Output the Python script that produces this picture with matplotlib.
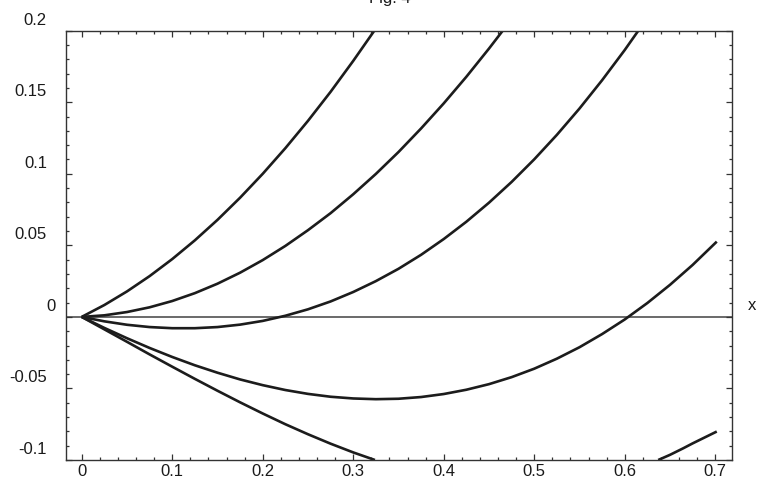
import numpy as np
import matplotlib
matplotlib.use("Agg")
import matplotlib.pyplot as plt
from matplotlib.ticker import MultipleLocator
from matplotlib.transforms import ScaledTranslation

plt.rcParams["font.family"] = ["Liberation Sans", "DejaVu Sans"]

# curves (x, y), every 0.025 in x; all start at the origin
a_x = [0, 0.025, 0.05, 0.075, 0.1, 0.125, 0.15, 0.175, 0.2, 0.225, 0.25, 0.275,
       0.3, 0.3233]
a_y = [0, 0.0083, 0.0178, 0.0285, 0.0404, 0.0535, 0.0678, 0.0833, 0.100, 0.1179,
       0.137, 0.1573, 0.1789, 0.2]

b_x = [0, 0.025, 0.05, 0.075, 0.1, 0.125, 0.15, 0.175, 0.2, 0.225, 0.25, 0.275,
       0.3, 0.325, 0.35, 0.375, 0.4, 0.425, 0.45, 0.4652]
b_y = [0, 0.0011, 0.0034, 0.0067, 0.0111, 0.0166, 0.0232, 0.0309, 0.0397, 0.0496,
       0.0606, 0.0725, 0.0857, 0.0999, 0.1152, 0.1317, 0.1492, 0.1678, 0.1875, 0.2]

c_x = [0, 0.025, 0.05, 0.075, 0.1, 0.125, 0.15, 0.175, 0.2, 0.225, 0.25, 0.275,
       0.3, 0.325, 0.35, 0.375, 0.4, 0.425, 0.45, 0.475, 0.5, 0.525, 0.55, 0.575,
       0.6, 0.615]
c_y = [0, -0.0031, -0.0055, -0.0071, -0.0079, -0.0079, -0.0071, -0.0054, -0.0028,
       0.0008, 0.0053, 0.0108, 0.0174, 0.0250, 0.0336, 0.0434, 0.0544, 0.0665,
       0.0798, 0.0943, 0.1101, 0.1272, 0.1456, 0.1654, 0.1865, 0.2]

d_x = [0, 0.025, 0.05, 0.075, 0.1, 0.125, 0.15, 0.175, 0.2, 0.225, 0.25, 0.275,
       0.3, 0.325, 0.35, 0.375, 0.4, 0.425, 0.45, 0.475, 0.5, 0.525, 0.55, 0.575,
       0.6, 0.625, 0.65, 0.675, 0.7017]
d_y = [0, -0.0077, -0.0149, -0.0217, -0.0280, -0.0338, -0.0390, -0.0437, -0.0477,
       -0.0511, -0.0538, -0.0558, -0.0570, -0.0575, -0.0572, -0.0560, -0.0539,
       -0.0509, -0.0470, -0.0421, -0.0362, -0.0292, -0.0212, -0.0120, -0.0018,
       0.0097, 0.0224, 0.0363, 0.0526]

# lowest curve leaves the frame between ~0.32 and ~0.64
e1_x = [0, 0.025, 0.05, 0.075, 0.1, 0.125, 0.15, 0.175, 0.2, 0.225, 0.25, 0.275,
        0.3, 0.324]
e1_y = [0, -0.0087, -0.0174, -0.0262, -0.0348, -0.0433, -0.0516, -0.0597,
        -0.0675, -0.0750, -0.0820, -0.0886, -0.0947, -0.1]
e2_x = [0.637, 0.65, 0.6647, 0.675, 0.7017]
e2_y = [-0.1, -0.0964, -0.0918, -0.0884, -0.0801]

yticks = [-0.1, -0.05, 0, 0.05, 0.1, 0.15, 0.2]
ytick_labels = ["-0.1", "-0.05", "0", "0.05", "0.1", "0.15", "0.2"]
xticks = [0, 0.1, 0.2, 0.3, 0.4, 0.5, 0.6, 0.7]
xtick_labels = ["0", "0.1", "0.2", "0.3", "0.4", "0.5", "0.6", "0.7"]

W, H = 762, 491
fig = plt.figure(figsize=(W / 100, H / 100), dpi=100)
ax = fig.add_axes([65.7 / W, 1 - 460 / H, (731.7 - 65.7) / W, (460 - 30.7) / H])

curve_kw = dict(color="#1c1c1c", linewidth=1.9, solid_capstyle="butt",
                solid_joinstyle="round")
ax.axhline(0, color="#505050", linewidth=1.2, zorder=1)
for xs, ys in [(a_x, a_y), (b_x, b_y), (c_x, c_y), (d_x, d_y), (e1_x, e1_y), (e2_x, e2_y)]:
    ax.plot(xs, ys, **curve_kw)

ax.set_xlim(-0.0177, 0.7182)
ax.set_ylim(-0.1, 0.2)

ax.set_xticks(xticks, xtick_labels)
ax.set_yticks(yticks, ytick_labels)
ax.xaxis.set_minor_locator(MultipleLocator(0.02))
ax.yaxis.set_minor_locator(MultipleLocator(0.01))

ax.tick_params(which="both", direction="in", top=True, right=True,
               color="#333333", width=0.9, labelsize=12, labelcolor="#1a1a1a")
ax.tick_params(which="major", length=4.3)
ax.tick_params(which="minor", length=2.2)
ax.tick_params(axis="y", pad=13.5)
ax.tick_params(axis="x", pad=3)

for s in ax.spines.values():
    s.set_color("#333333")
    s.set_linewidth(1.0)

# the y labels in the original sit ~12 px above their ticks
for tick in ax.yaxis.get_major_ticks():
    lab = tick.label1
    dx = 0.085 if lab.get_text() == "0" else 0.0
    lab.set_transform(lab.get_transform() + ScaledTranslation(dx, 0.12, fig.dpi_scale_trans))

fig.text(752 / W, 1 - 305 / H, "x", ha="center", va="center", fontsize=12, color="#1a1a1a")
fig.text(390 / W, 1 - 3.5 / H, "Fig. 4", ha="center", va="baseline", fontsize=12,
         color="#1a1a1a")

fig.savefig("out.png", dpi=100)
